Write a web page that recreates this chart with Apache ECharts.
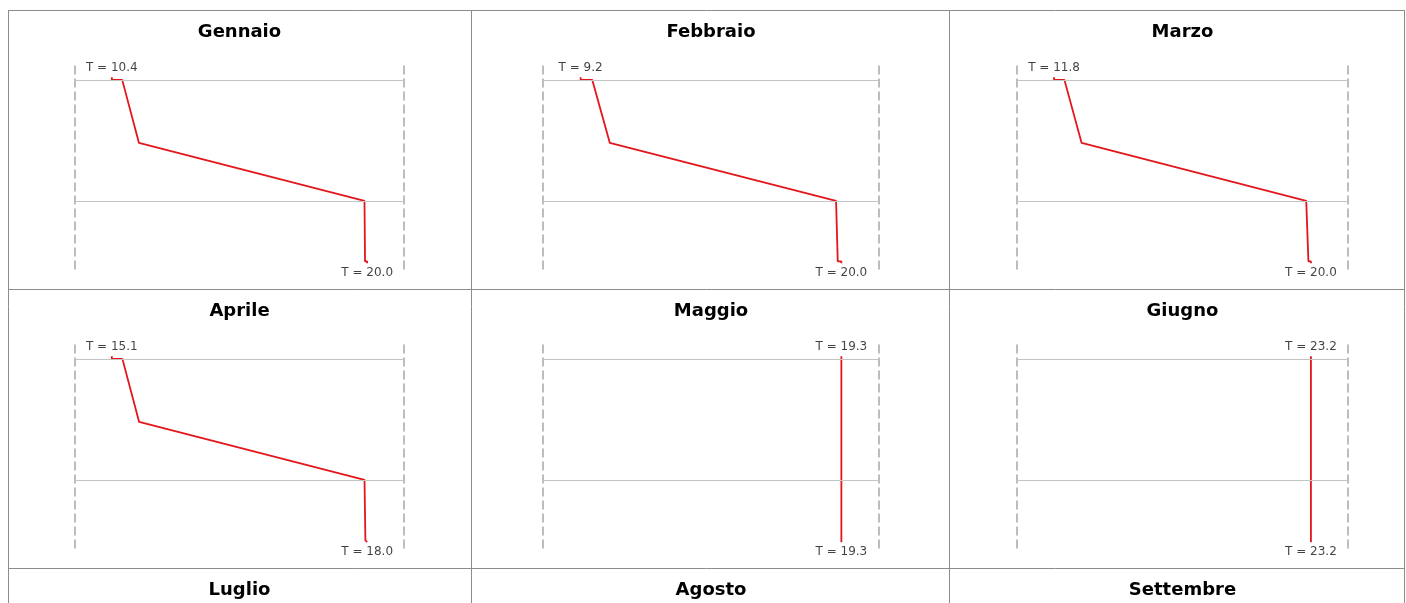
<!DOCTYPE html>
<html>
<head>
<meta charset="utf-8">
<title>Profilo di temperatura</title>
<script src="https://cdn.jsdelivr.net/npm/echarts@6/dist/echarts.min.js"></script>
<style>
  html, body { margin: 0; padding: 0; background: #fff; }
  #chart { width: 1406px; height: 603px; }
</style>
</head>
<body>
<div id="chart"></div>
<script>
// Month names for each cell of the table (3 columns)
const months = ['Gennaio', 'Febbraio', 'Marzo', 'Aprile', 'Maggio', 'Giugno', 'Luglio', 'Agosto', 'Settembre'];

// Depth of the profile nodes: outer air, outer surface, interfaces, inner surface, inner air
const depthNodes = [0, 1, 26, 49, 73, 73.7];
// Depths where the horizontal reference lines are drawn
const layerLines = [1, 49];

// Temperatures (°C) at each node, one array per month
const tGennaio  = [10.4, 10.79, 11.42, 19.90, 19.92, 20.0];
const tFebbraio = [9.2, 9.68, 10.41, 19.78, 19.85, 20.0];
const tMarzo    = [11.8, 12.13, 12.68, 19.85, 19.92, 20.0];
const tAprile   = [15.1, 15.22, 15.41, 17.97, 17.98, 18.0];
const tMaggio   = [19.3, 19.3, 19.3, 19.3, 19.3, 19.3];
const tGiugno   = [23.2, 23.2, 23.2, 23.2, 23.2, 23.2];

const profiles = [tGennaio, tFebbraio, tMarzo, tAprile, tMaggio, tGiugno];

// Table layout
const colBounds = [8, 471, 949, 1404];
const rowTops = [10, 289, 568];
const plotLeft = [75, 543, 1017];
const plotWidth = [329, 336, 331];
const plotTopOffset = 56;
const plotHeight = 208;

// Stepped polyline: surface film drops drawn as horizontal steps
function profilePoints(t) {
  const d = depthNodes;
  return [
    [t[0], d[0]], [t[0], d[1]], [t[1], d[1]],
    [t[2], d[2]], [t[3], d[3]], [t[4], d[4]],
    [t[5], d[4]], [t[5], d[5]]
  ];
}

// Temperature axis: range fitted so the profile sits between ~11% and ~89% of the width
function tempRange(t) {
  const lo = Math.min.apply(null, t), hi = Math.max.apply(null, t);
  if (hi - lo < 1e-9) {
    return { min: hi - 0.888, max: hi + 0.112 };
  }
  const pad = (hi - lo) * 0.1443;
  return { min: lo - pad, max: hi + pad };
}

const titles = [], grids = [], xAxes = [], yAxes = [], series = [];

months.forEach(function (m, i) {
  const col = i % 3, row = Math.floor(i / 3);
  titles.push({
    text: m,
    left: plotLeft[col] + plotWidth[col] / 2,
    top: rowTops[row] + 13,
    textAlign: 'center',
    padding: 0,
    textStyle: { fontFamily: 'DejaVu Sans', fontSize: 18, fontWeight: 'bold', color: '#000' }
  });
});

// Dashed wall boundaries drawn as the left and right depth axes
const boundaryLine = { show: true, lineStyle: { color: '#a8a8a8', width: 1.5, type: [8, 5] } };

profiles.forEach(function (t, i) {
  const col = i % 3, row = Math.floor(i / 3);
  const r = tempRange(t);
  grids.push({
    left: plotLeft[col],
    top: rowTops[row] + plotTopOffset,
    width: plotWidth[col],
    height: plotHeight
  });
  xAxes.push({
    type: 'value', gridIndex: i, min: r.min, max: r.max, show: false
  });
  ['left', 'right'].forEach(function (side) {
    yAxes.push({
      type: 'value', gridIndex: i, position: side, min: -4.5, max: 78, inverse: true,
      axisLine: boundaryLine, axisTick: { show: false }, axisLabel: { show: false },
      splitLine: { show: false }
    });
  });
  const yIdx = i * 2;

  const pts = profilePoints(t);
  const labelFont = { fontFamily: 'DejaVu Sans', fontSize: 12, color: '#111' };

  // Thin horizontal reference lines
  series.push({
    type: 'line',
    xAxisIndex: i, yAxisIndex: yIdx,
    data: [],
    silent: true,
    markLine: {
      silent: true,
      symbol: 'none',
      animation: false,
      label: { show: false },
      lineStyle: { color: '#c4c4c4', width: 1, type: 'solid' },
      data: layerLines.map(function (d) { return { yAxis: d }; })
    }
  });

  // Temperature profile
  series.push({
    type: 'line',
    xAxisIndex: i, yAxisIndex: yIdx,
    data: pts,
    symbol: 'none',
    clip: false,
    animation: false,
    lineStyle: { color: '#e3161c', width: 1.8 }
  });

  // End-point temperature labels
  series.push({
    type: 'scatter',
    xAxisIndex: i, yAxisIndex: yIdx,
    symbolSize: 1,
    itemStyle: { color: 'rgba(0,0,0,0)' },
    animation: false,
    silent: true,
    data: [
      { value: pts[0], label: Object.assign({ show: true, position: 'top', distance: 3,
          formatter: 'T = ' + t[0].toFixed(1) }, labelFont) },
      { value: pts[pts.length - 1], label: Object.assign({ show: true, position: 'bottom', distance: 3,
          formatter: 'T = ' + t[t.length - 1].toFixed(1) }, labelFont) }
    ]
  });
});

// Table cell borders
const borderStyle = { stroke: '#8c8c8c', lineWidth: 1 };
const graphics = [];
colBounds.forEach(function (x) {
  graphics.push({ type: 'line', silent: true,
    shape: { x1: x + 0.5, y1: rowTops[0], x2: x + 0.5, y2: 603 }, style: borderStyle });
});
rowTops.forEach(function (y) {
  graphics.push({ type: 'line', silent: true,
    shape: { x1: colBounds[0], y1: y + 0.5, x2: colBounds[3] + 1, y2: y + 0.5 }, style: borderStyle });
});

const chart = echarts.init(document.getElementById('chart'), null, { renderer: 'canvas' });
chart.setOption({
  backgroundColor: '#ffffff',
  animation: false,
  title: titles,
  grid: grids,
  xAxis: xAxes,
  yAxis: yAxes,
  series: series,
  graphic: graphics
});
</script>
</body>
</html>
